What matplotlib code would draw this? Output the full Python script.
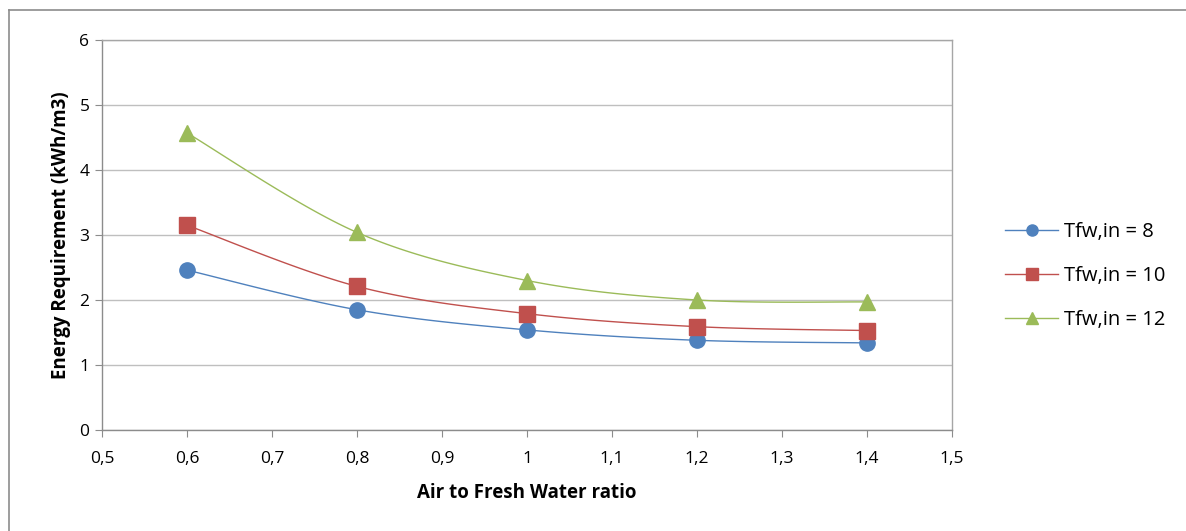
import numpy as np
import matplotlib
matplotlib.use('Agg')
import matplotlib.pyplot as plt
from matplotlib.lines import Line2D

plt.rcParams['font.family'] = ['Open Sans', 'DejaVu Sans']

ratio = [0.6, 0.8, 1.0, 1.2, 1.4]
e_t8 = [2.46, 1.85, 1.54, 1.38, 1.34]
e_t10 = [3.15, 2.21, 1.79, 1.59, 1.53]
e_t12 = [4.57, 3.04, 2.30, 2.00, 1.97]
labels = ['Tfw,in = 8', 'Tfw,in = 10', 'Tfw,in = 12']
colors = ['#4F81BD', '#C0504D', '#9BBB59']
markers = ['o', 's', '^']
xticks = [0.5, 0.6, 0.7, 0.8, 0.9, 1.0, 1.1, 1.2, 1.3, 1.4, 1.5]
xticklabels = ['0,5', '0,6', '0,7', '0,8', '0,9', '1', '1,1', '1,2', '1,3', '1,4', '1,5']


def smooth(x, y, n=30):
    # excel-ish smoothed line: cubic bezier with catmull-rom control points
    x = np.asarray(x, float)
    y = np.asarray(y, float)
    px = np.concatenate([[x[0]], x, [x[-1]]])
    py = np.concatenate([[y[0]], y, [y[-1]]])
    xs, ys = [], []
    t = np.linspace(0, 1, n)
    for i in range(1, len(px) - 2):
        p0 = np.array([px[i], py[i]])
        p3 = np.array([px[i + 1], py[i + 1]])
        c1 = p0 + (np.array([px[i + 1], py[i + 1]]) - np.array([px[i - 1], py[i - 1]])) / 6
        c2 = p3 - (np.array([px[i + 2], py[i + 2]]) - np.array([px[i], py[i]])) / 6
        pts = ((1 - t) ** 3)[:, None] * p0 + (3 * (1 - t) ** 2 * t)[:, None] * c1 \
            + (3 * (1 - t) * t ** 2)[:, None] * c2 + (t ** 3)[:, None] * p3
        xs.extend(pts[:, 0])
        ys.extend(pts[:, 1])
    return xs, ys


fig = plt.figure(figsize=(11.86, 5.31), dpi=100)
ax = fig.add_axes([102 / 1186, 1 - 430 / 531, 850 / 1186, 390 / 531])

handles = []
for ys, lab, c, m in zip([e_t8, e_t10, e_t12], labels, colors, markers):
    sx, sy = smooth(ratio, ys)
    ax.plot(sx, sy, color=c, lw=1.0, zorder=3)
    ax.plot(ratio, ys, ls='none', marker=m, color=c, ms=11, zorder=4)
    handles.append(Line2D([], [], color=c, lw=1.0, marker=m, ms=8))

ax.set_xlim(0.5, 1.5)
ax.set_ylim(0, 6)
ax.set_xticks(xticks)
ax.set_xticklabels(xticklabels)
ax.set_yticks(range(7))
ax.yaxis.grid(True, color='#BFBFBF', lw=1.0)
ax.set_axisbelow(True)
for s in ax.spines.values():
    s.set_color('#A6A6A6')
    s.set_linewidth(1.0)
ax.spines['left'].set_color('#8C8C8C')
ax.spines['bottom'].set_color('#8C8C8C')
ax.tick_params(direction='out', length=5, color='#8C8C8C', labelsize=12.5)
ax.tick_params(axis='x', pad=10)
ax.tick_params(axis='y', pad=4)

ax.set_xlabel('Air to Fresh Water ratio', fontsize=13.5, fontweight='bold', labelpad=12)
ax.set_ylabel('Energy Requirement (kWh/m3)', fontsize=13.5, fontweight='bold', labelpad=6)

fig.legend(handles, labels, loc='center left', bbox_to_anchor=(987 / 1186, 1 - 276 / 531),
           frameon=False, fontsize=14.5, handlelength=2.65, handletextpad=0.25, labelspacing=1.2)

# outer chart frame (only top and left edges visible)
fig.add_artist(Line2D([9 / 1186, 9 / 1186], [0, 1 - 10 / 531], color='#8C8C8C', lw=1.2))
fig.add_artist(Line2D([9 / 1186, 1], [1 - 10 / 531, 1 - 10 / 531], color='#8C8C8C', lw=1.2))

fig.savefig('out.png', dpi=100, facecolor='white')
